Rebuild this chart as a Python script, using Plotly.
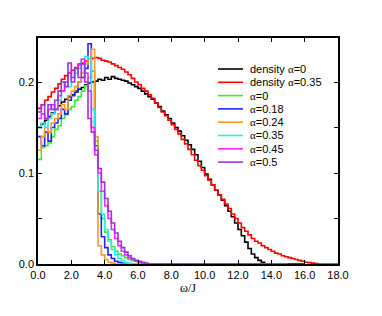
import plotly.graph_objects as go

# ---------------- data ----------------
BIN = 0.2  # bin width (omega/J)

density_a0 = [0.150, 0.154, 0.158, 0.162, 0.166, 0.170, 0.174, 0.178, 0.181, 0.184,
              0.186, 0.189, 0.192, 0.194, 0.197, 0.199, 0.200, 0.201, 0.203, 0.202,
              0.205, 0.203, 0.206, 0.204, 0.203, 0.202, 0.201, 0.199, 0.197, 0.195,
              0.193, 0.190, 0.187, 0.184, 0.181, 0.177, 0.173, 0.168, 0.164, 0.160,
              0.155, 0.150, 0.146, 0.141, 0.136, 0.131, 0.126, 0.120, 0.113, 0.106,
              0.099, 0.093, 0.087, 0.081, 0.076, 0.070, 0.064, 0.058, 0.052, 0.045,
              0.038, 0.031, 0.024, 0.017, 0.011, 0.007, 0.004, 0.002, 0.000]
density_a0_end = 16.0

density_a035 = [0.171, 0.175, 0.180, 0.184, 0.189, 0.193, 0.198, 0.203, 0.207, 0.210,
                0.213, 0.216, 0.219, 0.221, 0.223, 0.225, 0.226, 0.227, 0.226, 0.224,
                0.223, 0.222, 0.220, 0.218, 0.216, 0.214, 0.211, 0.208, 0.204, 0.200,
                0.197, 0.193, 0.190, 0.186, 0.182, 0.177, 0.172, 0.167, 0.163, 0.158,
                0.153, 0.148, 0.143, 0.137, 0.132, 0.126, 0.120, 0.114, 0.108, 0.103,
                0.097, 0.092, 0.087, 0.081, 0.076, 0.071, 0.066, 0.061, 0.055, 0.050,
                0.045, 0.040, 0.036, 0.032, 0.028, 0.025, 0.023, 0.020, 0.018, 0.016,
                0.014, 0.012, 0.011, 0.009, 0.008, 0.007, 0.006, 0.005, 0.004, 0.003,
                0.002, 0.0015, 0.001, 0.0005, 0.000]
density_a035_end = 18.0

hist_end = 15.0
hist_a0 = [0.115, 0.128, 0.130, 0.133, 0.140, 0.148, 0.152, 0.160, 0.164, 0.170,
           0.173, 0.180, 0.184, 0.190, 0.196, 0.205, 0.212, 0.135, 0.080, 0.050,
           0.035, 0.027, 0.019, 0.014, 0.011, 0.009, 0.007, 0.005, 0.004, 0.003,
           0.002, 0.001, 0.0005, 0.0, 0.0]
hist_a018 = [0.140, 0.130, 0.145, 0.135, 0.150, 0.155, 0.160, 0.170, 0.165, 0.180,
             0.185, 0.190, 0.200, 0.205, 0.215, 0.242, 0.200, 0.130, 0.055, 0.030,
             0.018, 0.010, 0.006, 0.003, 0.002, 0.001, 0.0, 0.0, 0.0, 0.0,
             0.0, 0.0, 0.0, 0.0, 0.0]
hist_a024 = [0.125, 0.140, 0.150, 0.145, 0.155, 0.160, 0.165, 0.175, 0.170, 0.185,
             0.190, 0.195, 0.200, 0.210, 0.220, 0.225, 0.236, 0.140, 0.020, 0.010,
             0.005, 0.002, 0.001, 0.0, 0.0, 0.0, 0.0, 0.0, 0.0, 0.0,
             0.0, 0.0, 0.0, 0.0, 0.0]
hist_a035 = [0.150, 0.155, 0.150, 0.160, 0.165, 0.170, 0.180, 0.190, 0.200, 0.195,
             0.205, 0.210, 0.215, 0.225, 0.228, 0.225, 0.170, 0.120, 0.080, 0.055,
             0.038, 0.025, 0.016, 0.010, 0.006, 0.004, 0.002, 0.001, 0.0, 0.0,
             0.0, 0.0, 0.0, 0.0, 0.0]
hist_a045 = [0.160, 0.165, 0.160, 0.170, 0.175, 0.170, 0.185, 0.190, 0.200, 0.210,
             0.205, 0.215, 0.220, 0.225, 0.210, 0.190, 0.150, 0.120, 0.100, 0.080,
             0.064, 0.050, 0.038, 0.028, 0.020, 0.014, 0.010, 0.007, 0.005, 0.003,
             0.002, 0.001, 0.0, 0.0, 0.0]
hist_a05 = [0.167, 0.175, 0.160, 0.175, 0.170, 0.180, 0.190, 0.200, 0.195, 0.221,
            0.200, 0.215, 0.205, 0.220, 0.200, 0.160, 0.145, 0.125, 0.105, 0.090,
            0.072, 0.058, 0.045, 0.034, 0.025, 0.018, 0.013, 0.009, 0.006, 0.004,
            0.003, 0.002, 0.001, 0.0, 0.0]

x_ticks = [0, 2, 4, 6, 8, 10, 12, 14, 16, 18]
y_ticks = [0.0, 0.1, 0.2]

series = [
    ("density α=0", density_a0, density_a0_end, "#000000"),
    ("density α=0.35", density_a035, density_a035_end, "#ff0000"),
    ("α=0", hist_a0, hist_end, "#33ee33"),
    ("α=0.18", hist_a018, hist_end, "#2222ff"),
    ("α=0.24", hist_a024, hist_end, "#ff9922"),
    ("α=0.35", hist_a035, hist_end, "#22eeee"),
    ("α=0.45", hist_a045, hist_end, "#ff22ff"),
    ("α=0.5", hist_a05, hist_end, "#9933dd"),
]

# ---------------- figure ----------------
W, H = 382, 316
OFF = 8  # page body margin
L, T = 38 - OFF, 38 - OFF
PW, PH = 300, 226
R, B = W - L - PW, H - T - PH

fig = go.Figure()
for name, vals, xend, col in series:
    xs = [round(i * BIN, 2) for i in range(len(vals))] + [xend]
    ys = list(vals) + [0.0]
    fig.add_trace(go.Scatter(x=xs, y=ys, mode="lines", name=name,
                             line=dict(color=col, width=1.6, shape="hv"),
                             showlegend=False, hoverinfo="skip"))

# manual legend (compact spacing), positions in page pixels
leg_x0, leg_x1, leg_tx = 218, 243, 248
leg_y0, leg_dy = 69, 13.3
serif = "Liberation Serif"
for i, (name, vals, xend, col) in enumerate(series):
    py = leg_y0 + i * leg_dy
    yp = (38 + PH - py) / PH
    fig.add_shape(type="line", xref="paper", yref="paper",
                  x0=(leg_x0 - 38) / PW, x1=(leg_x1 - 38) / PW, y0=yp, y1=yp,
                  line=dict(color=col, width=1.6))
    label = name.replace("α", f'<span style="font-family:{serif}">α</span>')
    fig.add_annotation(xref="paper", yref="paper", x=(leg_tx - 38) / PW, y=yp,
                       text=label, showarrow=False, xanchor="left", yanchor="middle",
                       font=dict(family="Liberation Sans, Arial", size=11, color="#000"))

axis_common = dict(showline=True, linecolor="black", linewidth=1.5, mirror="ticks",
                   ticks="inside", ticklen=4, tickwidth=1, tickcolor="black",
                   showgrid=False, zeroline=False,
                   tickfont=dict(family="Liberation Sans, Arial", size=11, color="black"))

fig.update_layout(
    width=W, height=H, margin=dict(l=L, r=R, t=T, b=B),
    paper_bgcolor="white", plot_bgcolor="white",
    showlegend=False,
    xaxis=dict(range=[0, 18], tickvals=x_ticks, tickformat=".1f",
               title=dict(text="ω/J", font=dict(family=serif, size=12, color="black"),
                          standoff=4),
               **axis_common),
    yaxis=dict(range=[0, 0.2484], tickvals=y_ticks, tickformat=".1f",
               minor=dict(dtick=0.05, ticks="inside", ticklen=4, tickcolor="black"),
               **axis_common),
)

fig.write_html("out.html")
